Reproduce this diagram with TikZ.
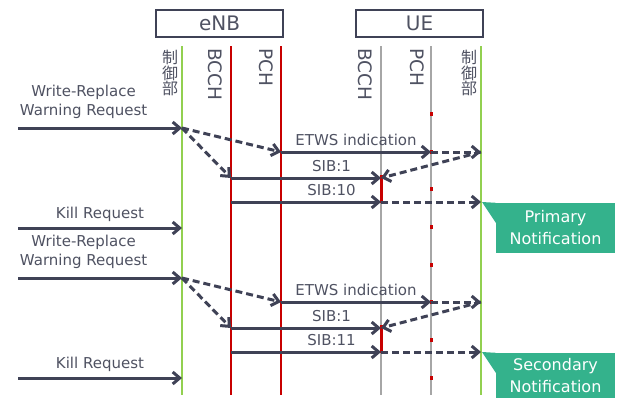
\documentclass[tikz,border=0pt]{standalone}
\usepackage{fontspec}
\setmainfont{DejaVu Sans}
\newfontfamily\jpfont{Noto Sans CJK JP}
\usepackage{tikz}
\usetikzlibrary{arrows.meta, positioning}
\definecolor{slate}{HTML}{3F4256}
\definecolor{txtgray}{HTML}{4F5262}
\definecolor{ctlgreen}{HTML}{92D050}
\definecolor{chred}{HTML}{C80000}
\definecolor{uegray}{HTML}{A6A6A6}
\definecolor{notegreen}{HTML}{34B28C}
\tikzstyle{entity} = [rectangle, draw = slate, line width = 1.2pt, minimum width = 127pt, minimum height = 27pt, inner sep = 0pt, text = txtgray, font = \fontsize{20}{24}\selectfont]
\tikzstyle{chlabel} = [rotate = -90, anchor = west, inner sep = 0pt, text = txtgray, font = \fontsize{18.5}{20}\selectfont]
\tikzstyle{ctllabel} = [anchor = north, inner sep = 0pt, align = center, text = txtgray, font = \jpfont\fontsize{16}{15.5}\selectfont]
\tikzstyle{lifeline} = [draw, line width = 2.5pt]
\tikzstyle{actbar} = [draw = chred, line width = 3pt]
\tikzstyle{msg} = [draw = slate, line width = 3pt, -{Straight Barb[length = 7pt, width = 12pt]}]
\tikzstyle{dmsg} = [msg, dash pattern = on 7pt off 4pt]
\tikzstyle{msglabel} = [above = 5pt, inner sep = 0pt, text = txtgray, font = \fontsize{15}{19}\selectfont, align = center]
\tikzstyle{note} = [rectangle, fill = notegreen, text = white, minimum width = 119pt, inner sep = 0pt, align = center, font = \fontsize{16}{22}\selectfont]
\tikzstyle{pointer} = [fill = notegreen]
\tikzstyle{tick} = [rectangle, fill = chred, minimum width = 3pt, minimum height = 4pt, inner sep = 0pt]

\begin{document}
\begin{tikzpicture}[x = 1pt, y = -1pt]
	\useasboundingbox (0, 0) rectangle (617, 399);
	% Entities
	\node [entity] (enb) at (219.5, 23.5) {eNB};
	\node [entity] (ue) at (419.5, 23.5) {UE};
	% Lifeline heads
	\coordinate (eCtl) at (182, 46);
	\coordinate (eBcch) at (231, 46);
	\coordinate (ePch) at (281, 46);
	\coordinate (uBcch) at (381, 46);
	\coordinate (uPch) at (431, 46);
	\coordinate (uCtl) at (481, 46);
	\coordinate (bot) at (0, 395);
	% Lifeline labels
	\node [ctllabel] (eCtlLbl) at (170, 50) {制\\御\\部};
	\node [chlabel] (eBcchLbl) at (215, 48) {BCCH};
	\node [chlabel] (ePchLbl) at (266, 48) {PCH};
	\node [chlabel] (uBcchLbl) at (365, 48) {BCCH};
	\node [chlabel] (uPchLbl) at (417, 48) {PCH};
	\node [ctllabel] (uCtlLbl) at (469, 50) {制\\御\\部};
	% Lifelines
	\path [lifeline, draw = ctlgreen] (eCtl) -- (eCtl |- bot);
	\path [lifeline, draw = chred] (eBcch) -- (eBcch |- bot);
	\path [lifeline, draw = chred] (ePch) -- (ePch |- bot);
	\path [lifeline, draw = uegray] (uBcch) -- (uBcch |- bot);
	\path [lifeline, draw = uegray] (uPch) -- (uPch |- bot);
	\path [lifeline, draw = ctlgreen] (uCtl) -- (uCtl |- bot);
	% Ticks on UE PCH
	\node [tick] (t1) at (431, 114) {};
	\node [tick] (t2) at (431, 152) {};
	\node [tick] (t3) at (431, 189) {};
	\node [tick] (t4) at (431, 227) {};
	\node [tick] (t5) at (431, 265) {};
	\node [tick] (t6) at (431, 302) {};
	\node [tick] (t7) at (431, 340) {};
	\node [tick] (t8) at (431, 378) {};
	% Message rows
	\coordinate (wr1) at (18, 128);
	\coordinate (ind1) at (0, 152);
	\coordinate (sib1a) at (0, 178);
	\coordinate (sib1b) at (0, 202);
	\coordinate (bar1s) at (0, 175);
	\coordinate (bar1e) at (0, 203);
	\coordinate (kill1) at (18, 228);
	\coordinate (wr2) at (18, 278);
	\coordinate (ind2) at (0, 302);
	\coordinate (sib2a) at (0, 328);
	\coordinate (sib2b) at (0, 352);
	\coordinate (bar2s) at (0, 325);
	\coordinate (bar2e) at (0, 353);
	\coordinate (kill2) at (18, 378);
	% Activation bars
	\path [actbar] (uBcch |- bar1s) -- (uBcch |- bar1e);
	\path [actbar] (uBcch |- bar2s) -- (uBcch |- bar2e);
	% Primary notification
	\path [msg] (wr1) -- node [msglabel, above = 7.5pt, pos = .4] (wr1Lbl) {Write-Replace\\Warning Request} (eCtl |- wr1);
	\path [dmsg] (eCtl |- wr1) -- (ePch |- ind1);
	\path [dmsg] (eCtl |- wr1) -- (eBcch |- sib1a);
	\path [msg] (ePch |- ind1) -- node [msglabel] (ind1Lbl) {ETWS indication} (uPch |- ind1);
	\path [dmsg] (uPch |- ind1) -- (uCtl |- ind1);
	\path [dmsg] (uCtl |- ind1) -- (uBcch |- sib1a);
	\path [msg] (eBcch |- sib1a) -- node [msglabel, pos = .67] (sib1aLbl) {SIB:1} (uBcch |- sib1a);
	\path [msg] (eBcch |- sib1b) -- node [msglabel, pos = .67] (sib1bLbl) {SIB:10} (uBcch |- sib1b);
	\path [dmsg] (uBcch |- sib1b) -- (uCtl |- sib1b);
	\path [msg] (kill1) -- node [msglabel, above = 4.5pt] (kill1Lbl) {Kill Request} (eCtl |- kill1);
	\node [note, minimum height = 50pt] (prim) at (555.5, 228) {Primary\\Notification};
	\path [pointer] (prim.north west) -- ([xshift = 1pt]uCtl |- sib1b) -- ([yshift = -20pt]prim.north west) -- cycle;
	% Secondary notification
	\path [msg] (wr2) -- node [msglabel, above = 7.5pt, pos = .4] (wr2Lbl) {Write-Replace\\Warning Request} (eCtl |- wr2);
	\path [dmsg] (eCtl |- wr2) -- (ePch |- ind2);
	\path [dmsg] (eCtl |- wr2) -- (eBcch |- sib2a);
	\path [msg] (ePch |- ind2) -- node [msglabel] (ind2Lbl) {ETWS indication} (uPch |- ind2);
	\path [dmsg] (uPch |- ind2) -- (uCtl |- ind2);
	\path [dmsg] (uCtl |- ind2) -- (uBcch |- sib2a);
	\path [msg] (eBcch |- sib2a) -- node [msglabel, pos = .67] (sib2aLbl) {SIB:1} (uBcch |- sib2a);
	\path [msg] (eBcch |- sib2b) -- node [msglabel, pos = .67] (sib2bLbl) {SIB:11} (uBcch |- sib2b);
	\path [dmsg] (uBcch |- sib2b) -- (uCtl |- sib2b);
	\path [msg] (kill2) -- node [msglabel, above = 4.5pt] (kill2Lbl) {Kill Request} (eCtl |- kill2);
	\node [note, minimum height = 45pt] (sec) at (555.5, 375.5) {Secondary\\Notification};
	\path [pointer] (sec.north west) -- ([xshift = 1pt]uCtl |- sib2b) -- ([yshift = -20pt]sec.north west) -- cycle;
\end{tikzpicture}
\end{document}
